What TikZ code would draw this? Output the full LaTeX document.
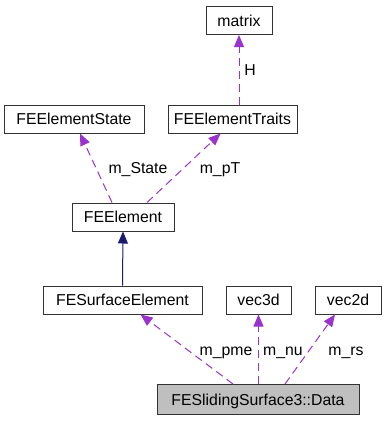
\documentclass[tikz,border=0pt]{standalone}
\usepackage{fontspec}
\setmainfont{Liberation Sans}
\usepackage{tikz}
\usetikzlibrary{
    arrows.meta
}

\definecolor{usecol}{RGB}{154,50,205}
\definecolor{inhcol}{RGB}{25,25,112}
\definecolor{hicol}{RGB}{191,191,191}

\tikzset{
    cls/.style={draw=black!80, line width=1pt, rectangle, inner sep=0pt,
        minimum height=28pt, text height=11pt, text depth=0pt,
        font=\fontsize{15.8}{19}\selectfont},
    uses/.style={draw=usecol, line width=1pt, dash pattern=on 8pt off 5pt,
        -{Triangle[length=12pt,width=10pt]}},
    inherits/.style={draw=inhcol, line width=1pt,
        -{Triangle[length=12pt,width=10pt]}},
    lbl/.style={anchor=base, inner sep=0pt, font=\fontsize{15.8}{19}\selectfont}
}

\begin{document}
\begin{tikzpicture}[x=1pt,y=-1pt]

\useasboundingbox (0,0) rectangle (385,421);

% classes
\node[cls, minimum width=66pt]  (matrix) at (239,20.5) {matrix};
\node[cls, minimum width=140pt] (state)  at (74,119)   {FEElementState};
\node[cls, minimum width=129pt] (traits) at (232.5,119) {FEElementTraits};
\node[cls, minimum width=102pt] (elem)   at (123,217)  {FEElement};
\node[cls, minimum width=159pt] (surf)   at (122.5,300) {FESurfaceElement};
\node[cls, minimum width=65pt]  (vecthree) at (258.5,300) {vec3d};
\node[cls, minimum width=66pt]  (vectwo) at (348,300)  {vec2d};
\node[cls, minimum width=202pt, minimum height=30pt, fill=hicol]
    (data) at (258,399.5) {FESlidingSurface3::Data};

% inheritance
\draw[inherits] (surf.north) -- (elem.south);

% members
\draw[uses] ([xshift=6.5pt]traits.north) -- (matrix.south);
\draw[uses] ([xshift=-11pt]elem.north) -- ([xshift=6pt]state.south);
\draw[uses] ([xshift=24pt]elem.north) -- ([xshift=-12pt]traits.south);
\draw[uses] ([xshift=-25pt]data.north) -- ([xshift=18pt]surf.south);
\draw[uses] ([xshift=0.5pt]data.north) -- (vecthree.south);
\draw[uses] ([xshift=27pt]data.north) -- ([xshift=-13pt]vectwo.south);

% member names
\node[lbl] (lH)     at (250,75)  {H};
\node[lbl] (lstate) at (138,173) {m\_State};
\node[lbl] (lpT)    at (220,173) {m\_pT};
\node[lbl] (lpme)   at (226,355) {m\_pme};
\node[lbl] (lnu)    at (283,355) {m\_nu};
\node[lbl] (lrs)    at (346,355) {m\_rs};

\end{tikzpicture}
\end{document}
